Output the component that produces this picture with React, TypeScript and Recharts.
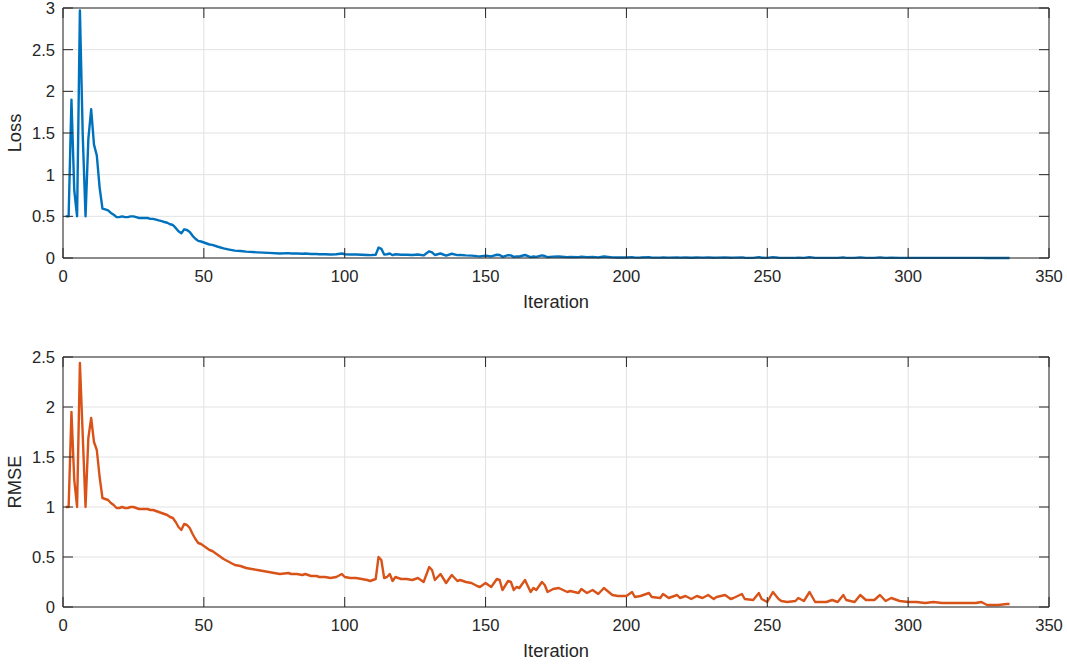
import React from 'react';
import { LineChart, Line, XAxis, YAxis, CartesianGrid, ReferenceLine, Label } from 'recharts';

const iterations = [
  1, 2, 3, 4, 5, 6, 7, 8, 9, 10, 11, 12, 13, 14, 15, 16, 17, 18, 19, 20,
  21, 22, 23, 24, 25, 26, 27, 28, 29, 30, 31, 32, 33, 34, 35, 36, 37, 38, 39, 40,
  41, 42, 43, 44, 45, 46, 47, 48, 49, 50, 51, 52, 53, 55, 57, 59, 61, 63, 65, 69,
  73, 77, 80, 81, 83, 85, 86, 88, 90, 91, 93, 95, 97, 99, 100, 102, 104, 106, 108, 109,
  111, 112, 113, 114, 115, 116, 117, 118, 120, 122, 124, 126, 128, 130, 131, 132, 134, 136, 138, 140,
  141, 143, 145, 147, 148, 150, 151, 152, 154, 155, 156, 158, 159, 160, 161, 162, 164, 166, 167, 168,
  170, 171, 172, 174, 176, 179, 180, 183, 184, 186, 188, 190, 192, 195, 197, 200, 202, 203, 205, 208,
  209, 212, 213, 215, 218, 219, 221, 223, 225, 227, 229, 231, 232, 235, 237, 238, 241, 242, 245, 247,
  248, 250, 252, 254, 255, 257, 260, 261, 263, 265, 267, 270, 271, 273, 275, 277, 278, 281, 283, 285,
  288, 290, 292, 294, 297, 300, 303, 306, 309, 312, 316, 320, 324, 326, 328, 332, 335, 336,
];

const rmseValues = [
  1.00, 1.00, 1.95, 1.27, 1.00, 2.44, 1.72, 1.00, 1.69, 1.89, 1.65, 1.57, 1.30, 1.09, 1.08, 1.07, 1.04, 1.02, 0.99, 0.99,
  1.00, 0.99, 0.99, 1.00, 1.00, 0.99, 0.98, 0.98, 0.98, 0.98, 0.97, 0.97, 0.96, 0.95, 0.94, 0.93, 0.92, 0.90, 0.89, 0.85,
  0.80, 0.77, 0.83, 0.82, 0.79, 0.73, 0.68, 0.64, 0.63, 0.61, 0.59, 0.57, 0.56, 0.52, 0.48, 0.45, 0.42, 0.41, 0.39, 0.37,
  0.35, 0.33, 0.34, 0.33, 0.33, 0.32, 0.33, 0.31, 0.31, 0.30, 0.30, 0.29, 0.30, 0.33, 0.30, 0.29, 0.29, 0.28, 0.27, 0.26,
  0.28, 0.50, 0.47, 0.29, 0.30, 0.33, 0.26, 0.30, 0.28, 0.28, 0.27, 0.29, 0.25, 0.40, 0.37, 0.27, 0.33, 0.24, 0.32, 0.26,
  0.27, 0.25, 0.24, 0.21, 0.20, 0.24, 0.22, 0.20, 0.28, 0.27, 0.17, 0.26, 0.25, 0.17, 0.20, 0.19, 0.27, 0.15, 0.19, 0.17,
  0.25, 0.22, 0.15, 0.18, 0.19, 0.15, 0.16, 0.14, 0.18, 0.14, 0.17, 0.13, 0.19, 0.12, 0.11, 0.11, 0.15, 0.10, 0.11, 0.14,
  0.10, 0.09, 0.13, 0.09, 0.12, 0.09, 0.11, 0.08, 0.11, 0.09, 0.12, 0.08, 0.10, 0.12, 0.08, 0.09, 0.13, 0.08, 0.07, 0.14,
  0.08, 0.05, 0.15, 0.08, 0.06, 0.05, 0.06, 0.09, 0.06, 0.15, 0.05, 0.05, 0.05, 0.07, 0.05, 0.12, 0.07, 0.05, 0.12, 0.07,
  0.07, 0.12, 0.06, 0.09, 0.06, 0.05, 0.05, 0.04, 0.05, 0.04, 0.04, 0.04, 0.04, 0.05, 0.02, 0.02, 0.03, 0.03,
];

const lossValues = [
  0.500, 0.500, 1.900, 0.810, 0.500, 2.970, 1.480, 0.500, 1.430, 1.785, 1.360, 1.230, 0.845, 0.594, 0.583, 0.572, 0.541, 0.520, 0.490, 0.490,
  0.500, 0.490, 0.490, 0.500, 0.500, 0.490, 0.480, 0.480, 0.480, 0.480, 0.470, 0.470, 0.461, 0.451, 0.442, 0.432, 0.423, 0.405, 0.396, 0.361,
  0.320, 0.296, 0.344, 0.336, 0.312, 0.266, 0.231, 0.205, 0.198, 0.186, 0.174, 0.162, 0.157, 0.135, 0.115, 0.101, 0.088, 0.084, 0.076, 0.068,
  0.061, 0.054, 0.058, 0.054, 0.054, 0.051, 0.054, 0.048, 0.048, 0.045, 0.045, 0.042, 0.045, 0.054, 0.045, 0.042, 0.042, 0.039, 0.036, 0.034,
  0.039, 0.125, 0.110, 0.042, 0.045, 0.054, 0.034, 0.045, 0.039, 0.039, 0.036, 0.042, 0.031, 0.080, 0.068, 0.036, 0.054, 0.029, 0.051, 0.034,
  0.036, 0.031, 0.029, 0.022, 0.020, 0.029, 0.024, 0.020, 0.039, 0.036, 0.014, 0.034, 0.031, 0.014, 0.020, 0.018, 0.036, 0.011, 0.018, 0.014,
  0.031, 0.024, 0.011, 0.016, 0.018, 0.011, 0.013, 0.010, 0.016, 0.010, 0.014, 0.008, 0.018, 0.007, 0.006, 0.006, 0.011, 0.005, 0.006, 0.010,
  0.005, 0.004, 0.008, 0.004, 0.007, 0.004, 0.006, 0.003, 0.006, 0.004, 0.007, 0.003, 0.005, 0.007, 0.003, 0.004, 0.008, 0.003, 0.002, 0.010,
  0.003, 0.001, 0.011, 0.003, 0.002, 0.001, 0.002, 0.004, 0.002, 0.011, 0.001, 0.001, 0.001, 0.002, 0.001, 0.007, 0.002, 0.001, 0.007, 0.002,
  0.002, 0.007, 0.002, 0.004, 0.002, 0.001, 0.001, 0.001, 0.001, 0.001, 0.001, 0.001, 0.001, 0.001, 0.000, 0.000, 0.000, 0.000,
];

const xTicks = [0, 50, 100, 150, 200, 250, 300, 350];
const lossTicks = [0, 0.5, 1, 1.5, 2, 2.5, 3];
const rmseTicks = [0, 0.5, 1, 1.5, 2, 2.5];

const data = iterations.map((it, i) => ({ it, rmse: rmseValues[i], loss: lossValues[i] }));

const WIDTH = 1067;
const PLOT_LEFT = 63;
const PLOT_RIGHT = 1049;
const TICK_LEN = 10;
const AXIS_COLOR = '#262626';
const GRID_COLOR = '#e2e2e2';
const FONT = '"Liberation Sans", Arial, Helvetica, sans-serif';
const TICK_FONT = 16.6;
const LABEL_FONT = 18.3;

const makeXTick = (plotTop: number, plotBottom: number) => (props: any) => {
  const { x, payload } = props;
  return (
    <g>
      <line x1={x} x2={x} y1={plotBottom} y2={plotBottom - TICK_LEN} stroke={AXIS_COLOR} strokeWidth={1} />
      <line x1={x} x2={x} y1={plotTop} y2={plotTop + TICK_LEN} stroke={AXIS_COLOR} strokeWidth={1} />
      <text x={x} y={plotBottom + 24} textAnchor="middle" fontSize={TICK_FONT} fill={AXIS_COLOR} fontFamily={FONT}>
        {String(payload.value)}
      </text>
    </g>
  );
};

const makeYTick = () => (props: any) => {
  const { y, payload } = props;
  return (
    <g>
      <line x1={PLOT_LEFT} x2={PLOT_LEFT + TICK_LEN} y1={y} y2={y} stroke={AXIS_COLOR} strokeWidth={1} />
      <line x1={PLOT_RIGHT} x2={PLOT_RIGHT - TICK_LEN} y1={y} y2={y} stroke={AXIS_COLOR} strokeWidth={1} />
      <text x={55} y={y + 6} textAnchor="end" fontSize={TICK_FONT} fill={AXIS_COLOR} fontFamily={FONT}>
        {String(payload.value)}
      </text>
    </g>
  );
};

type PanelProps = {
  top: number;
  height: number;
  plotTop: number;
  plotBottom: number;
  dataKey: string;
  color: string;
  yMax: number;
  yTicks: number[];
  yLabel: string;
};

const Panel = ({ top, height, plotTop, plotBottom, dataKey, color, yMax, yTicks, yLabel }: PanelProps) => {
  const xAxisHeight = height - plotBottom - 10;
  const centerY = (plotTop + plotBottom) / 2;
  const centerX = (PLOT_LEFT + PLOT_RIGHT) / 2;
  return (
    <div style={{ position: 'absolute', left: 0, top }}>
      <LineChart
        width={WIDTH}
        height={height}
        data={data}
        margin={{ top: plotTop, right: WIDTH - PLOT_RIGHT, bottom: 10, left: 0 }}
      >
        <CartesianGrid stroke={GRID_COLOR} strokeWidth={1} />
        <XAxis
          dataKey="it"
          type="number"
          domain={[0, 350]}
          ticks={xTicks}
          interval={0}
          height={xAxisHeight}
          tickSize={0}
          tickMargin={0}
          tickLine={false}
          axisLine={{ stroke: AXIS_COLOR, strokeWidth: 1 }}
          tick={makeXTick(plotTop, plotBottom)}
        >
          <Label
            content={() => (
              <text x={centerX} y={plotBottom + 49.5} textAnchor="middle" fontSize={LABEL_FONT} fill={AXIS_COLOR} fontFamily={FONT}>
                Iteration
              </text>
            )}
          />
        </XAxis>
        <YAxis
          type="number"
          domain={[0, yMax]}
          ticks={yTicks}
          interval={0}
          width={PLOT_LEFT}
          tickSize={0}
          tickMargin={0}
          tickLine={false}
          axisLine={{ stroke: AXIS_COLOR, strokeWidth: 1 }}
          tick={makeYTick()}
        >
          <Label
            content={() => (
              <text
                x={21}
                y={centerY}
                transform={`rotate(-90, 21, ${centerY})`}
                textAnchor="middle"
                fontSize={LABEL_FONT}
                fill={AXIS_COLOR}
                fontFamily={FONT}
              >
                {yLabel}
              </text>
            )}
          />
        </YAxis>
        <Line
          type="linear"
          dataKey={dataKey}
          stroke={color}
          strokeWidth={2.4}
          strokeLinejoin="round"
          dot={false}
          activeDot={false}
          isAnimationActive={false}
        />
        <ReferenceLine y={yMax} stroke={AXIS_COLOR} strokeWidth={1} />
        <ReferenceLine x={350} stroke={AXIS_COLOR} strokeWidth={1} />
      </LineChart>
    </div>
  );
};

export default function App() {
  return (
    <div style={{ position: 'absolute', left: 0, top: 0, width: WIDTH, height: 664, background: '#ffffff' }}>
      <Panel top={0} height={330} plotTop={8} plotBottom={258} dataKey="loss" color="#0072BD" yMax={3} yTicks={lossTicks} yLabel="Loss" />
      <Panel top={330} height={334} plotTop={27} plotBottom={277} dataKey="rmse" color="#D95319" yMax={2.5} yTicks={rmseTicks} yLabel="RMSE" />
    </div>
  );
}
